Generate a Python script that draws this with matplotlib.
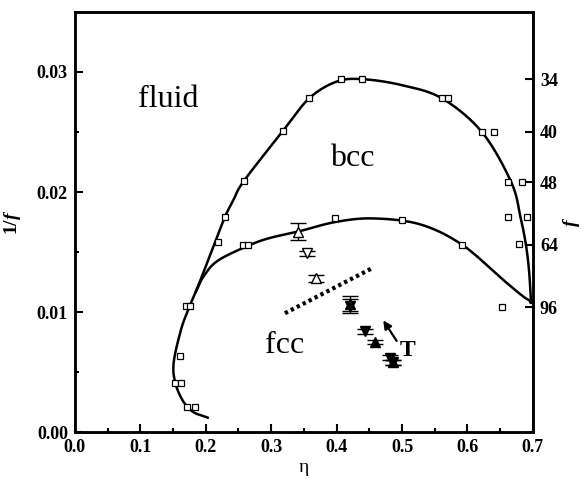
import numpy as np
import matplotlib
matplotlib.use("Agg")
import matplotlib.pyplot as plt

plt.rcParams['mathtext.fontset'] = 'custom'
plt.rcParams['mathtext.it'] = 'Liberation Serif:italic:bold'
plt.rcParams['mathtext.rm'] = 'Liberation Serif:bold'

# Simulation data (open squares)
sq_eta = [0.171, 0.183, 0.153, 0.162, 0.161, 0.170, 0.176, 0.219, 0.229, 0.258,
          0.318, 0.358, 0.407, 0.439, 0.561, 0.570, 0.622, 0.641, 0.662, 0.683,
          0.662, 0.691, 0.679, 0.653, 0.257, 0.264, 0.398, 0.500, 0.592]
sq_inv = [0.0021, 0.0021, 0.0041, 0.0041, 0.0063, 0.0105, 0.0105, 0.0158, 0.0179, 0.0209,
          0.0251, 0.0278, 0.0294, 0.0294, 0.0278, 0.0278, 0.0250, 0.0250, 0.0208, 0.0208,
          0.0179, 0.0179, 0.0157, 0.0104, 0.0156, 0.0156, 0.0178, 0.0177, 0.0156]

# fluid boundary guide line
upper_eta = [0.203, 0.180, 0.164, 0.153, 0.151, 0.161, 0.171, 0.190, 0.214, 0.229, 0.242,
             0.258, 0.318, 0.358, 0.400, 0.440, 0.500, 0.561, 0.622, 0.667, 0.681, 0.689, 0.694, 0.697]
upper_inv = [0.0012, 0.0017, 0.0027, 0.0042, 0.0058, 0.0083, 0.0099, 0.0124, 0.0158, 0.0179, 0.0193,
             0.0209, 0.0251, 0.0278, 0.0292, 0.0294, 0.0289, 0.0278, 0.0250, 0.0208, 0.0179, 0.0157, 0.0135, 0.0109]

# bcc-fcc boundary guide line
lower_eta = [0.185, 0.197, 0.219, 0.268, 0.300, 0.341, 0.398, 0.456, 0.528, 0.592, 0.654, 0.685, 0.697]
lower_inv = [0.0117, 0.0130, 0.0143, 0.0156, 0.0162, 0.0167, 0.0175, 0.0178, 0.0173, 0.0156, 0.0127, 0.0113, 0.0109]

# experimental points
open_up_eta = [0.341, 0.368]
open_up_inv = [0.0167, 0.0128]
open_up_err = [0.0007, 0.0003]
open_dn_eta = [0.355]
open_dn_inv = [0.0149]
open_dn_err = [0.0002]
fill_up_eta = [0.420, 0.459, 0.486]
fill_up_inv = [0.0107, 0.0075, 0.0058]
fill_up_err = [0.0006, 0.0002, 0.0002]
fill_dn_eta = [0.420, 0.443, 0.482, 0.486]
fill_dn_inv = [0.0105, 0.0084, 0.0062, 0.0058]
fill_dn_err = [0.0006, 0.0002, 0.0002, 0.0002]

# dotted line
dot_eta = [0.321, 0.456]
dot_inv = [0.0099, 0.0137]

right_ticks_f = [34, 40, 48, 64, 96]


def catmull(xs, ys, n=30):
    p = np.column_stack([xs, ys]).astype(float)
    p = np.vstack([2 * p[0] - p[1], p, 2 * p[-1] - p[-2]])
    out = []
    t = np.linspace(0, 1, n, endpoint=False)
    for i in range(1, len(p) - 2):
        p0, p1, p2, p3 = p[i - 1], p[i], p[i + 1], p[i + 2]
        tt = t[:, None]
        seg = 0.5 * ((2 * p1) + (-p0 + p2) * tt + (2 * p0 - 5 * p1 + 4 * p2 - p3) * tt ** 2
                     + (-p0 + 3 * p1 - 3 * p2 + p3) * tt ** 3)
        out.append(seg)
    out.append(p[-2][None, :])
    out = np.vstack(out)
    return out[:, 0], out[:, 1]


fig = plt.figure(figsize=(5.85, 4.79), dpi=100)
ax = fig.add_axes([0.128, 0.098, 0.783, 0.877])

serif = 'Liberation Serif'

ux, uy = catmull(upper_eta, upper_inv)
ax.plot(ux, uy, color='black', lw=1.8)
lx, ly = catmull(lower_eta, lower_inv)
ax.plot(lx, ly, color='black', lw=1.8)
ax.plot([lower_eta[-1]], [lower_inv[-1]], 'o', color='black', ms=3)

ax.plot(sq_eta, sq_inv, 's', mfc='white', mec='black', ms=4.5, mew=0.9, ls='none')

ax.plot(dot_eta, dot_inv, color='black', lw=3, ls=(0, (0.8, 0.8)))

ekw = dict(ls='none', ecolor='black', elinewidth=1.0, capsize=6, capthick=1.0, ms=6.5, mew=1.0)
ax.errorbar(open_up_eta, open_up_inv, yerr=open_up_err, fmt='^', mfc='white', mec='black', **ekw)
ax.errorbar(open_dn_eta, open_dn_inv, yerr=open_dn_err, fmt='v', mfc='white', mec='black', **ekw)
ax.errorbar(fill_up_eta, fill_up_inv, yerr=fill_up_err, fmt='^', mfc='black', mec='black', **ekw)
ax.errorbar(fill_dn_eta, fill_dn_inv, yerr=fill_dn_err, fmt='v', mfc='black', mec='black', **ekw)

ax.annotate('', xy=(0.469, 0.0095), xytext=(0.494, 0.0074),
            arrowprops=dict(arrowstyle='-|>', color='black', lw=1.6, mutation_scale=12))
ax.text(0.497, 0.0068, 'T', fontfamily=serif, fontweight='bold', fontsize=17, va='center', ha='left')

ax.text(0.142, 0.0277, 'fluid', fontfamily=serif, fontsize=23, ha='center', va='center')
ax.text(0.424, 0.0228, 'bcc', fontfamily=serif, fontsize=23, ha='center', va='center')
ax.text(0.321, 0.0072, 'fcc', fontfamily=serif, fontsize=23, ha='center', va='center')

ax.set_xlim(0, 0.7)
ax.set_ylim(0, 0.035)
ax.set_xticks(np.arange(0, 0.71, 0.1))
ax.set_xticks(np.arange(0.05, 0.7, 0.1), minor=True)
ax.set_yticks([0.0, 0.01, 0.02, 0.03])
ax.set_yticks([0.005, 0.015, 0.025], minor=True)
ax.set_xticklabels(['%.1f' % v for v in np.arange(0, 0.71, 0.1)])
ax.set_yticklabels(['0.00', '0.01', '0.02', '0.03'])
ax.tick_params(which='both', direction='in', width=1.5, top=False, right=False)
ax.tick_params(which='major', length=6, pad=5)
ax.tick_params(which='minor', length=3)
for lab in ax.get_xticklabels() + ax.get_yticklabels():
    lab.set_fontfamily(serif)
    lab.set_fontweight('bold')
    lab.set_fontsize(13)
for s in ax.spines.values():
    s.set_linewidth(1.8)

ax.set_xlabel('η', fontfamily=serif, fontsize=14, labelpad=2)
ax.set_ylabel('1/$f$', fontfamily=serif, fontweight='bold', fontsize=14, labelpad=10)

ax2 = ax.twinx()
ax2.set_ylim(ax.get_ylim())
ax2.set_yticks([1.0 / f for f in right_ticks_f])
ax2.set_yticklabels([str(f) for f in right_ticks_f])
ax2.tick_params(direction='in', length=6, width=1.5, pad=5)
for lab in ax2.get_yticklabels():
    lab.set_fontfamily(serif)
    lab.set_fontweight('bold')
    lab.set_fontsize(13)
ax2.set_ylabel('$f$', fontsize=14, labelpad=2)
for s in ax2.spines.values():
    s.set_linewidth(1.8)

fig.savefig('out.png', dpi=100)
